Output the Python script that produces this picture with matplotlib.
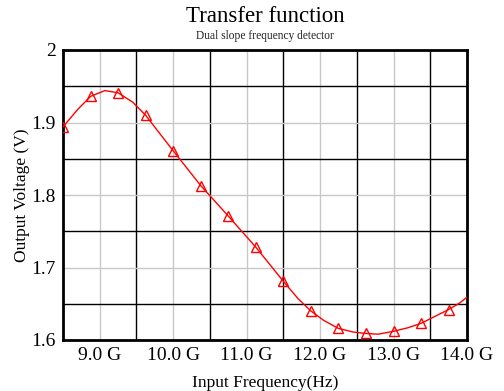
import matplotlib
matplotlib.use("Agg")
import matplotlib.pyplot as plt

# marker samples (GHz, V)
freq = [8.5, 8.875, 9.25, 9.625, 10.0, 10.375, 10.75, 11.125, 11.5,
        11.875, 12.25, 12.625, 13.0, 13.375, 13.75]
volt = [1.894, 1.936, 1.941, 1.910, 1.861, 1.813, 1.771, 1.728, 1.681,
        1.640, 1.616, 1.609, 1.612, 1.623, 1.642]

# the drawn curve
line_freq = [8.5, 8.7, 8.875, 9.07, 9.25, 9.45, 9.625, 9.8, 10.0, 10.375,
             10.75, 11.125, 11.5, 11.7, 11.875, 12.05, 12.25, 12.45, 12.625,
             12.79, 13.0, 13.2, 13.375, 13.75, 13.9, 14.0]
line_volt = [1.894, 1.918, 1.936, 1.944, 1.941, 1.928, 1.910, 1.887, 1.861,
             1.813, 1.771, 1.728, 1.681, 1.657, 1.640, 1.627, 1.616, 1.611,
             1.609, 1.608, 1.612, 1.617, 1.623, 1.642, 1.651, 1.659]

xticks = [9, 10, 11, 12, 13, 14]
xlabels = ["9.0 G", "10.0 G", "11.0 G", "12.0 G", "13.0 G", "14.0 G"]
yticks = [1.6, 1.7, 1.8, 1.9, 2.0]
ylabels = ["1.6", "1.7", "1.8", "1.9", "2"]

plt.rcParams['font.family'] = ['Liberation Serif', 'DejaVu Serif']

fig = plt.figure(figsize=(5.04, 3.91), dpi=100)
ax = fig.add_axes([63/504, 1 - 340/391, 404/504, 290/391])

ax.plot(line_freq, line_volt, color='red', lw=1, zorder=3)
ax.plot(freq, volt, ls='none', marker='^', ms=6.5, mfc='none', mec='red',
        mew=1, zorder=4)

ax.set_xlim(8.5, 14.0)
ax.set_ylim(1.6, 2.0)
ax.set_xticks(xticks)
ax.set_xticklabels(xlabels, fontsize=14)
ax.set_yticks(yticks)
ax.set_yticklabels(ylabels, fontsize=14)
ax.set_xticks([9.5, 10.5, 11.5, 12.5, 13.5], minor=True)
ax.set_yticks([1.65, 1.75, 1.85, 1.95], minor=True)
ax.tick_params(which='both', length=0, pad=5)

ax.grid(which='major', color='#c8c8c8', lw=1)
ax.grid(which='minor', color='black', lw=1)
ax.set_axisbelow(True)
for s in ax.spines.values():
    s.set_linewidth(2)

ax.set_xlabel('Input Frequency(Hz)', fontsize=12.5, labelpad=8)
ax.set_ylabel('Output Voltage (V)', fontsize=12.5, labelpad=1)

fig.text(265/504, 1 - 17/391, 'Transfer function', fontsize=16.5,
         ha='center', va='center')
fig.text(265/504, 1 - 36/391, 'Dual slope frequency detector', fontsize=8.3,
         ha='center', va='center', color='#222222')

fig.savefig('out.png', dpi=100)
